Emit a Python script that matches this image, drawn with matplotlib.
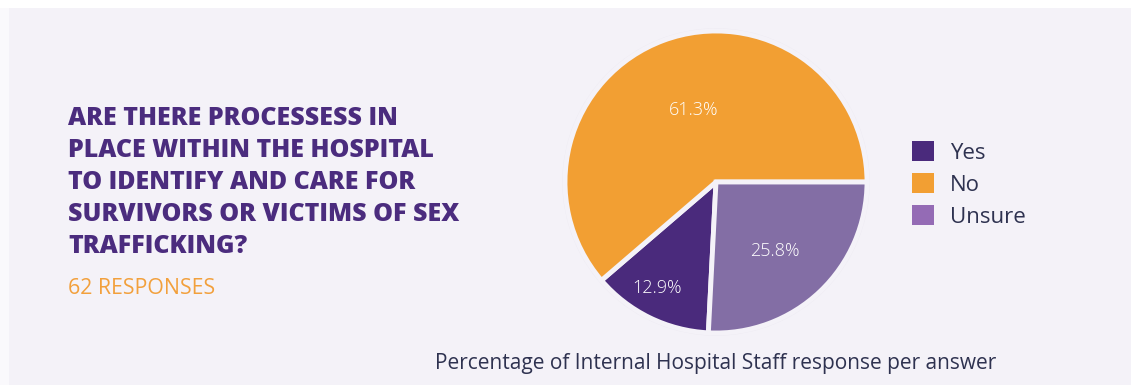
import numpy as np
import matplotlib.pyplot as plt
from matplotlib.patches import Patch, Circle, Rectangle

# data
answers = ['Yes', 'No', 'Unsure']
shares = [12.9, 61.3, 25.8]
pie_colors = ['#4a2a7c', '#f29f33', '#836ea5']
legend_colors = ['#4a2a7c', '#f29f33', '#946bb5']
label_dist = [0.8, 0.5, 0.6]

title_lines = ['ARE THERE PROCESSESS IN', 'PLACE WITHIN THE HOSPITAL',
               'TO IDENTIFY AND CARE FOR', 'SURVIVORS OR VICTIMS OF SEX',
               'TRAFFICKING?']
subtitle = '62 RESPONSES'
caption = 'Percentage of Internal Hospital Staff response per answer'

bg = '#f4f2f8'
W, H = 1131, 385
fig = plt.figure(figsize=(W / 100, H / 100), dpi=100, facecolor=bg)

# white strip along the top and left edge
fig.patches.append(Rectangle((0, 1 - 8 / H), 1, 8 / H, transform=fig.transFigure,
                             facecolor='white', edgecolor='none'))
fig.patches.append(Rectangle((0, 0), 9 / W, 1 - 8 / H, transform=fig.transFigure,
                             facecolor='#faf9fc', edgecolor='none'))

# pie axes
cx, cy, r = 716, 182, 151
ax = fig.add_axes([(cx - r) / W, (H - cy - r) / H, 2 * r / W, 2 * r / H])
ax.set_facecolor('none')
ring = Circle((0, 0), 1.018, facecolor='#eeebf3', edgecolor='none', clip_on=False)
ax.add_patch(ring)
wedges, _ = ax.pie(shares, colors=pie_colors, startangle=-92.9, counterclock=False,
                   radius=1, wedgeprops=dict(edgecolor=bg, linewidth=3.5))
for w in wedges:
    w.set_clip_on(False)
for w, s, d in zip(wedges, shares, label_dist):
    mid = np.deg2rad((w.theta1 + w.theta2) / 2 - 3)
    ax.text(d * np.cos(mid), d * np.sin(mid), f'{s}%', ha='center', va='center',
            color='white', fontsize=13, family='Open Sans', fontweight='light')
ax.set_xlim(-1, 1)
ax.set_ylim(-1, 1)
ax.set_aspect('equal')
ax.axis('off')

# legend
handles = [Patch(facecolor=c, edgecolor='none') for c in legend_colors]
leg = fig.legend(handles, answers, loc='upper left', bbox_to_anchor=(912 / W, 1 - 141 / H),
                 frameon=False, handlelength=1.0, handleheight=1.0,
                 labelspacing=0.43, handletextpad=0.72, borderpad=0, borderaxespad=0,
                 prop=dict(family='Open Sans', size=16))
for t in leg.get_texts():
    t.set_color('#2e3250')

# title block
for i, line in enumerate(title_lines):
    fig.text(68 / W, 1 - (125 + 32 * i) / H, line, ha='left', va='baseline',
             fontsize=18, fontweight='heavy', color='#4b2c7e', family='Open Sans')
fig.text(68 / W, 1 - 294 / H, subtitle, ha='left', va='baseline',
         fontsize=15.3, color='#f2a03c', family='Open Sans')

fig.text(cx / W, 1 - 369 / H, caption, ha='center', va='baseline',
         fontsize=15, color='#2e3250', family='Open Sans')

fig.savefig('out.png', dpi=100, facecolor=bg)
